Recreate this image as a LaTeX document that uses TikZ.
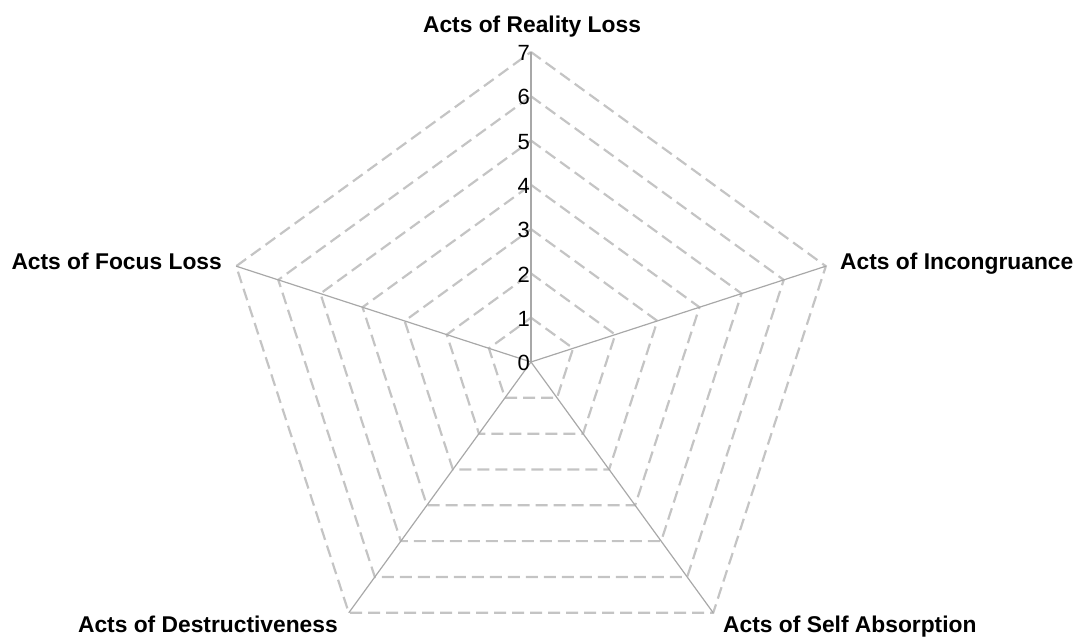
\documentclass[tikz,border=0pt]{standalone}
\usepackage{fontspec}
\setmainfont{Liberation Sans}
\begin{document}
\begin{tikzpicture}[x=1pt,y=1pt,
  ring/.style={draw={rgb,255:red,196;green,196;blue,196},line width=2.2pt,dash pattern=on 12pt off 6pt},
  axis/.style={draw={rgb,255:red,168;green,168;blue,168},line width=1.2pt},
  axlabel/.style={inner sep=0pt,font=\fontsize{22.8}{27}\selectfont\bfseries},
  tick/.style={inner sep=0pt,anchor=east,font=\fontsize{22}{26}\selectfont}]
\useasboundingbox (0,0) rectangle (1081,637);
\coordinate (c) at (531,275);
\def\R{310}
\begin{scope}[shift={(c)}]
  \foreach \k in {1,...,7}{
    \pgfmathsetmacro{\r}{\R*\k/7}
    \draw[ring] (90:\r) -- (18:\r) -- (-54:\r) -- (-126:\r) -- (162:\r) -- cycle;
  }
  \coordinate (vA) at (90:\R);
  \coordinate (vB) at (18:\R);
  \coordinate (vC) at (-54:\R);
  \coordinate (vD) at (-126:\R);
  \coordinate (vE) at (162:\R);
  \foreach \v in {vA,vB,vC,vD,vE}{ \draw[axis] (0,0) -- (\v); }
  \foreach \k in {0,...,7}{
    \pgfmathsetmacro{\r}{\R*\k/7}
    \node[tick] (t\k) at (-1,\r-1) {\k};
  }
\end{scope}
\node[axlabel,anchor=base] (lA) at (532,604.7) {Acts of Reality Loss};
\node[axlabel,anchor=base west] (lB) at (840,367.7) {Acts of Incongruance};
\node[axlabel,anchor=base west] (lC) at (723,4.3) {Acts of Self Absorption};
\node[axlabel,anchor=base east] (lD) at (338,4.3) {Acts of Destructiveness};
\node[axlabel,anchor=base east] (lE) at (222,367.7) {Acts of Focus Loss};
\end{tikzpicture}
\end{document}
